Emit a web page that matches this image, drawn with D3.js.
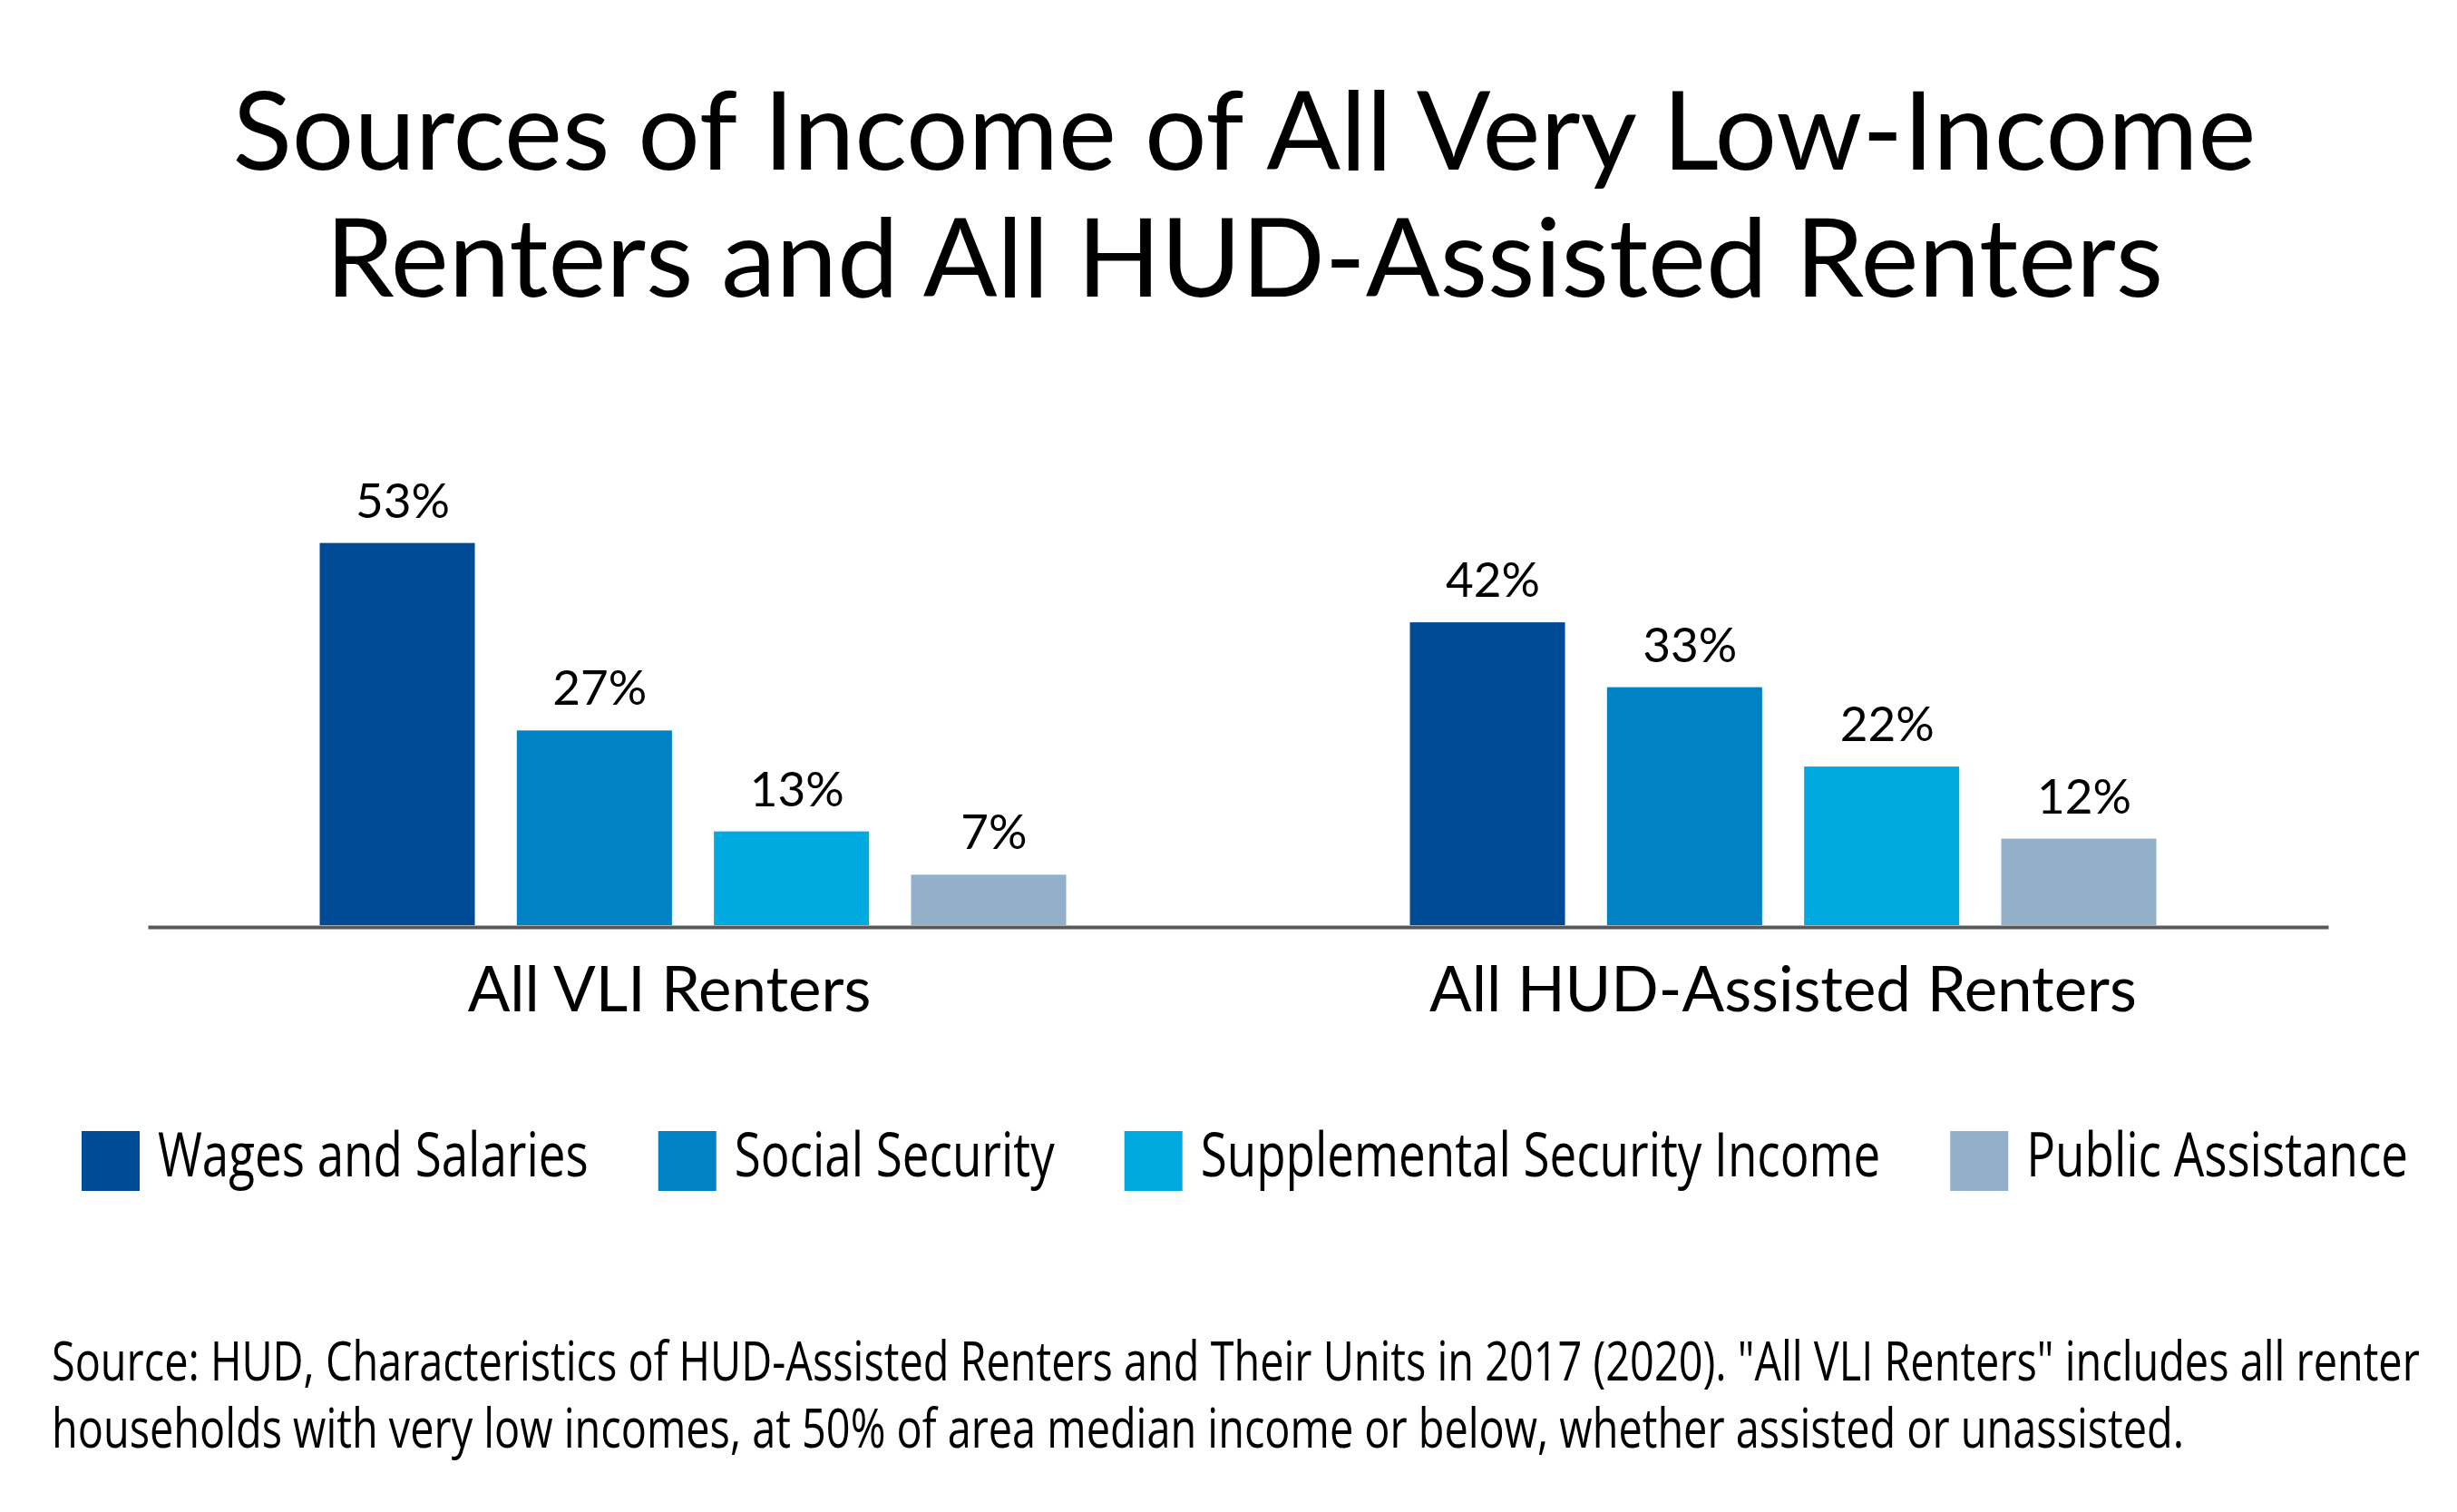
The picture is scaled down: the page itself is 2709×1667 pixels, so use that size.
<!DOCTYPE html>
<html>
<head>
<meta charset="utf-8">
<script src="https://cdn.jsdelivr.net/npm/d3@7"></script>
<style>
  body { margin: 0; background: #fff; }
  svg { display: block; }
</style>
</head>
<body>
<div id="chart"></div>
<script>
// data
var groups = ["All VLI Renters", "All HUD-Assisted Renters"];
var series = ["Wages and Salaries", "Social Security", "Supplemental Security Income", "Public Assistance"];
var vliValues = [53, 27, 13, 7];
var hudValues = [42, 33, 22, 12];
var colors = ["#004b96", "#0082c5", "#00a9e0", "#93b0cb"];
var titleLines = ["Sources of Income of All Very Low-Income", "Renters and All HUD-Assisted Renters"];
var sourceLines = [
    "Source: HUD, Characteristics of HUD-Assisted Renters and Their Units in 2017 (2020). \"All VLI Renters\" includes all renter",
    "households with very low incomes, at 50% of area median income or below, whether assisted or unassisted."
];

var width = 2709;
var height = 1667;
// no condensed font installed, so squeeze Open Sans sideways
var legendStretch = 0.79;
var sourceStretch = 0.768;

var data = groups.map(function (g, i) {
    var vals = i === 0 ? vliValues : hudValues;
    return { group: g, values: series.map(function (s, j) { return { key: s, value: vals[j] }; }) };
});

var svg = d3.select("#chart")
    .append("svg")
    .attr("width", width)
    .attr("height", height);

// title
svg.append("text")
    .attr("x", 1372)
    .attr("y", 187)
    .attr("text-anchor", "middle")
    .style("font-family", "Lato, sans-serif")
    .style("font-size", "121px")
    .selectAll("tspan")
    .data(titleLines)
    .enter()
    .append("tspan")
    .attr("x", 1372)
    .attr("dy", function (d, i) { return i === 0 ? 0 : 140; })
    .text(function (d) { return d; });

var x0 = d3.scaleBand()
    .domain(groups)
    .range([163, 2567])
    .padding(0);

var x1 = d3.scaleBand()
    .domain(series)
    .range([-411.5, 411.5])
    .paddingInner(0.213)
    .paddingOuter(0);

var y = d3.scaleLinear()
    .domain([0, 60])
    .range([1020, 543]);

var color = d3.scaleOrdinal()
    .domain(series)
    .range(colors);

var groupG = svg.selectAll(".group")
    .data(data)
    .enter()
    .append("g")
    .attr("class", "group")
    .attr("transform", function (d) {
        return "translate(" + (x0(d.group) + x0.bandwidth() / 2) + ",0)";
    });

groupG.selectAll("rect")
    .data(function (d) { return d.values; })
    .enter()
    .append("rect")
    .attr("x", function (d) { return x1(d.key); })
    .attr("y", function (d) { return y(d.value); })
    .attr("width", x1.bandwidth())
    .attr("height", function (d) { return y(0) - y(d.value); })
    .attr("fill", function (d) { return color(d.key); });

groupG.selectAll(".val")
    .data(function (d) { return d.values; })
    .enter()
    .append("text")
    .attr("class", "val")
    .attr("x", function (d) { return x1(d.key) + x1.bandwidth() / 2 + 6; })
    .attr("y", function (d) { return y(d.value) - 28; })
    .attr("text-anchor", "middle")
    .style("font-family", "Lato, sans-serif")
    .style("font-size", "53px")
    .text(function (d) { return d.value + "%"; });

// axis along the bottom
var axis = svg.append("g")
    .attr("transform", "translate(0," + (y(0) + 2) + ")")
    .call(d3.axisBottom(x0).tickSize(0).tickPadding(0));

axis.select(".domain")
    .attr("stroke", "#58595b")
    .attr("stroke-width", 4);

axis.selectAll(".tick text")
    .attr("dy", 0)
    .attr("y", 93)
    .attr("dx", function (d, i) { return i === 0 ? -26 : 0; })
    .style("font-family", "Lato, sans-serif")
    .style("font-size", "69px")
    .attr("fill", "#000");

// legend
var legend = svg.append("g").attr("transform", "translate(90,1247)");
var lx = 0;
series.forEach(function (s) {
    var item = legend.append("g").attr("transform", "translate(" + lx + ",0)");
    item.append("rect")
        .attr("width", 64)
        .attr("height", 66)
        .attr("fill", color(s));
    var t = item.append("g")
        .attr("transform", "translate(84,50) scale(" + legendStretch + ",1)")
        .append("text")
        .style("font-family", "'Open Sans', sans-serif")
        .style("font-size", "67px")
        .text(s);
    var w = t.node().getComputedTextLength() * legendStretch;
    lx += 84 + w + 77;
});

// source note
svg.selectAll(".src")
    .data(sourceLines)
    .enter()
    .append("g")
    .attr("class", "src")
    .attr("transform", function (d, i) {
        return "translate(57," + (1522 + i * 74) + ") scale(" + sourceStretch + ",1)";
    })
    .append("text")
    .style("font-family", "'Open Sans', sans-serif")
    .style("font-size", "61px")
    .text(function (d) { return d; });
</script>
</body>
</html>
